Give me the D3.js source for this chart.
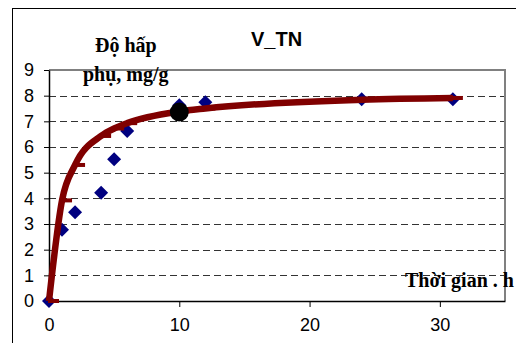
<!DOCTYPE html>
<html>
<head>
<meta charset="utf-8">
<script src="https://cdn.jsdelivr.net/npm/d3@7"></script>
<style>
  body { margin: 0; background: #fff; }
  svg { display: block; }
</style>
</head>
<body>
<svg id="chart" width="516" height="343"></svg>
<script>
// experimental points (blue diamonds)
const expTime = [0, 1, 2, 4, 5, 6, 10, 12, 24, 31];
const expQ = [0, 2.78, 3.46, 4.22, 5.52, 6.62, 7.63, 7.74, 7.86, 7.86];
// model curve (red line with dash markers)
const modelTime = [0, 1, 2, 4, 5, 6, 10, 12, 24, 31];
const modelQ = [0, 3.92, 5.3, 6.43, 6.72, 6.93, 7.38, 7.5, 7.84, 7.91];
// highlighted point (black dot)
const markTime = [10];
const markQ = [7.36];

const xTicks = [0, 10, 20, 30];
const yTicks = [0, 1, 2, 3, 4, 5, 6, 7, 8, 9];

const svg = d3.select('#chart');
const margin = { left: 49, top: 70, right: 505, bottom: 301 };

const x = d3.scaleLinear().domain([0, 35]).range([margin.left, margin.right]);
const y = d3.scaleLinear().domain([0, 9]).range([margin.bottom, margin.top]);

// outer chart frame
svg.append('rect')
    .attr('x', 12.5).attr('y', 8.5)
    .attr('width', 560).attr('height', 400)
    .attr('fill', 'none').attr('stroke', '#000').attr('stroke-width', 1);

// gridlines
svg.append('g')
    .selectAll('line')
    .data(yTicks.filter(d => d > 0 && d < 9))
    .join('line')
    .attr('x1', x(0)).attr('x2', x(35))
    .attr('y1', d => Math.round(y(d)) + 0.5).attr('y2', d => Math.round(y(d)) + 0.5)
    .attr('stroke', '#333').attr('stroke-dasharray', '7,4');

// plot frame top/right in gray
svg.append('path')
    .attr('d', `M${x(0)},${y(9)}H${x(35)}V${y(0)}`)
    .attr('fill', 'none').attr('stroke', '#808080').attr('stroke-width', 2);

// axes
const yAxis = svg.append('g')
    .attr('transform', `translate(${x(0)},0)`)
    .call(d3.axisLeft(y).tickValues(yTicks).tickSize(5).tickSizeOuter(0).tickPadding(10));
const xAxis = svg.append('g')
    .attr('transform', `translate(0,${y(0)})`)
    .call(d3.axisBottom(x).tickValues(xTicks).tickSize(6).tickSizeOuter(0).tickPadding(16));

[yAxis, xAxis].forEach(a => {
    a.select('.domain').attr('stroke', '#000').attr('stroke-width', 1.5);
    a.selectAll('.tick line').attr('stroke', '#000');
    a.selectAll('.tick text')
        .attr('fill', '#000')
        .attr('font-family', 'Liberation Sans, Arial, sans-serif')
        .attr('font-size', 18);
});
xAxis.selectAll('.tick text').attr('dy', '0.45em');

// diamonds
const diamond = d3.symbol().type(d3.symbolDiamond2).size(125);
svg.append('g')
    .selectAll('path')
    .data(expTime.map((t, i) => [t, expQ[i]]))
    .join('path')
    .attr('d', diamond)
    .attr('transform', d => `translate(${x(d[0])},${y(d[1])})`)
    .attr('fill', '#000080');

// model curve
const line = d3.line()
    .x(d => x(d[0]))
    .y(d => y(d[1]))
    .curve(d3.curveMonotoneX);
const modelPts = modelTime.map((t, i) => [t, modelQ[i]]);
svg.append('path')
    .datum(modelPts)
    .attr('d', line)
    .attr('fill', 'none')
    .attr('stroke', '#800000')
    .attr('stroke-width', 6.5)
    .attr('stroke-linejoin', 'round');

// dash markers
svg.append('g')
    .selectAll('rect')
    .data(modelPts)
    .join('rect')
    .attr('x', d => x(d[0]) - 1)
    .attr('y', d => y(d[1]) - 2)
    .attr('width', 11)
    .attr('height', 4)
    .attr('fill', '#800000');

// highlighted point
svg.append('g')
    .selectAll('circle')
    .data(markTime.map((t, i) => [t, markQ[i]]))
    .join('circle')
    .attr('cx', d => x(d[0]))
    .attr('cy', d => y(d[1]))
    .attr('r', 9.5)
    .attr('fill', '#000');

// titles
const serif = 'Liberation Serif, Times New Roman, serif';
svg.append('text')
    .attr('x', 95).attr('y', 52)
    .attr('font-family', serif).attr('font-weight', 'bold').attr('font-size', 20)
    .text('Độ hấp');
svg.append('text')
    .attr('x', 83).attr('y', 81)
    .attr('font-family', serif).attr('font-weight', 'bold').attr('font-size', 20)
    .text('phụ, mg/g');
svg.append('text')
    .attr('x', 251).attr('y', 46)
    .attr('font-family', 'Liberation Sans, Arial, sans-serif').attr('font-weight', 'bold').attr('font-size', 20)
    .text('V_TN');
svg.append('text')
    .attr('x', 405).attr('y', 287)
    .attr('font-family', serif).attr('font-weight', 'bold').attr('font-size', 20)
    .text('Thời gian . h');
</script>
</body>
</html>
